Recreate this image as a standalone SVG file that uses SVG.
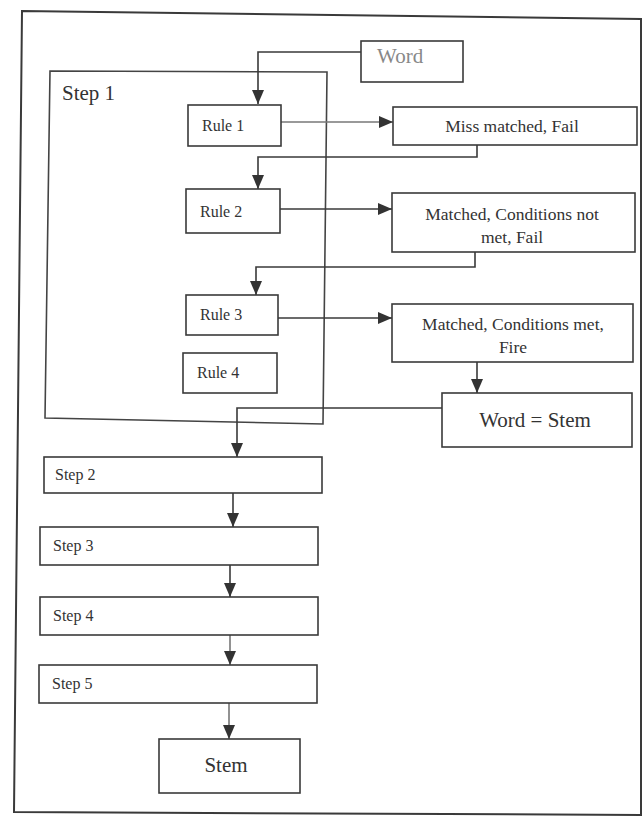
<svg xmlns="http://www.w3.org/2000/svg" width="644" height="820" viewBox="0 0 644 820" font-family="'Liberation Serif', 'Times New Roman', serif">
  <style>
    .box { fill: #ffffff; stroke: #3a3a3a; stroke-width: 1.6; }
    .frame { fill: none; stroke: #3a3a3a; stroke-width: 2; }
    .group { fill: none; stroke: #444; stroke-width: 1.6; }
    .conn { fill: none; stroke: #3a3a3a; stroke-width: 1.6; }
    .faint { stroke: #777; }
    text { font-family: "Liberation Serif", "Times New Roman", serif; fill: #333; }
    .rule { font-size: 16px; }
    .res { font-size: 17.5px; text-anchor: middle; }
    .step { font-size: 16px; }
    .big { font-size: 21px; }
  </style>
  <defs>
    <marker id="arrow" markerUnits="userSpaceOnUse" markerWidth="15" markerHeight="13" refX="14" refY="6" orient="auto">
      <path d="M0,0 L14,6 L0,12 Z" fill="#333"/>
    </marker>
  </defs>

  <rect width="644" height="820" fill="#ffffff"/>

  <!-- outer frame -->
  <path class="frame" d="M22,11 L641,19 L641,815 L14,812 Z"/>

  <!-- Step 1 container -->
  <g id="step1">
    <path class="group" d="M50,71 L327,72 L323,424 L45,418 Z"/>
    <text class="big" x="62" y="100">Step 1</text>
  </g>

  <!-- connectors -->
  <g id="connectors">
    <path class="conn" d="M361,52 H258 V104" marker-end="url(#arrow)"/>
    <path class="conn faint" d="M281,122 H393" marker-end="url(#arrow)"/>
    <path class="conn" d="M477,145 V157 H258 V189" marker-end="url(#arrow)"/>
    <path class="conn" d="M280,209 H392" marker-end="url(#arrow)"/>
    <path class="conn" d="M475,252 V267 H256 V295" marker-end="url(#arrow)"/>
    <path class="conn" d="M278,318 H392" marker-end="url(#arrow)"/>
    <path class="conn" d="M477,362 V393" marker-end="url(#arrow)"/>
    <path class="conn" d="M442,408 H237 V457" marker-end="url(#arrow)"/>
    <path class="conn" d="M233,493 V527" marker-end="url(#arrow)"/>
    <path class="conn" d="M230,565 V597" marker-end="url(#arrow)"/>
    <path class="conn faint" d="M230,635 V665" marker-end="url(#arrow)"/>
    <path class="conn faint" d="M229,703 V739" marker-end="url(#arrow)"/>
  </g>

  <g id="word">
    <rect class="box" x="361" y="41" width="102" height="41"/>
    <text class="big" x="377" y="63" style="fill:#888">Word</text>
  </g>

  <g id="rule1">
    <rect class="box" x="188" y="105" width="93" height="41"/>
    <text class="rule" x="202" y="131">Rule 1</text>
  </g>

  <g id="mismatched">
    <rect class="box" x="393" y="107" width="244" height="38"/>
    <text class="res" x="512" y="132">Miss matched, Fail</text>
  </g>

  <g id="rule2">
    <rect class="box" x="186" y="189" width="94" height="44"/>
    <text class="rule" x="200" y="217">Rule 2</text>
  </g>

  <g id="notmet">
    <rect class="box" x="392" y="193" width="243" height="59"/>
    <text class="res" x="512" y="220">Matched, Conditions not</text>
    <text class="res" x="512" y="243">met, Fail</text>
  </g>

  <g id="rule3">
    <rect class="box" x="186" y="295" width="92" height="40"/>
    <text class="rule" x="200" y="320">Rule 3</text>
  </g>

  <g id="fire">
    <rect class="box" x="392" y="304" width="241" height="58"/>
    <text class="res" x="513" y="330">Matched, Conditions met,</text>
    <text class="res" x="513" y="353">Fire</text>
  </g>

  <g id="rule4">
    <rect class="box" x="183" y="353" width="94" height="40"/>
    <text class="rule" x="197" y="378">Rule 4</text>
  </g>

  <g id="wordstem">
    <rect class="box" x="442" y="393" width="190" height="54"/>
    <text class="big" x="535" y="427" text-anchor="middle">Word = Stem</text>
  </g>

  <g id="step2">
    <rect class="box" x="44" y="457" width="278" height="36"/>
    <text class="step" x="55" y="480">Step 2</text>
  </g>

  <g id="step3">
    <rect class="box" x="40" y="527" width="278" height="38"/>
    <text class="step" x="53" y="551">Step 3</text>
  </g>

  <g id="step4">
    <rect class="box" x="40" y="597" width="278" height="38"/>
    <text class="step" x="53" y="621">Step 4</text>
  </g>

  <g id="step5">
    <rect class="box" x="39" y="665" width="278" height="38"/>
    <text class="step" x="52" y="689">Step 5</text>
  </g>

  <g id="stem">
    <rect class="box" x="159" y="739" width="141" height="54"/>
    <text class="big" x="226" y="772" text-anchor="middle">Stem</text>
  </g>
</svg>
